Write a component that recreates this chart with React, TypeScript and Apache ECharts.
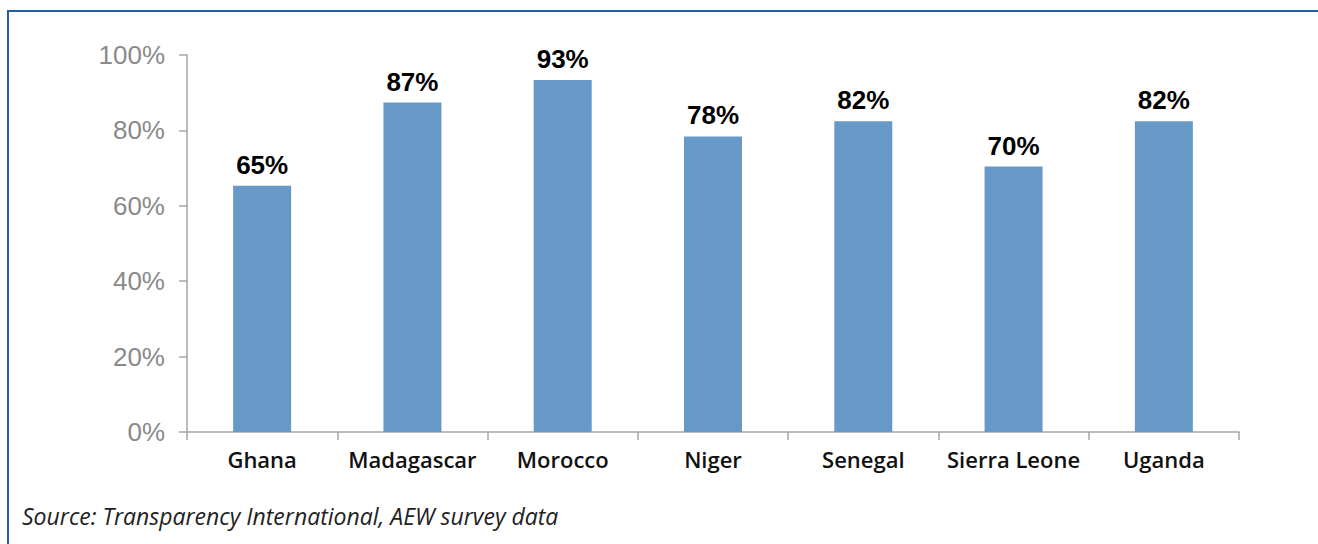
import React, { useEffect, useRef } from "react";
import * as echarts from "echarts";

const categories = ["Ghana", "Madagascar", "Morocco", "Niger", "Senegal", "Sierra Leone", "Uganda"];
// bar heights (labels show the rounded values)
const values = [65.3, 87.4, 93.4, 78.4, 82.4, 70.4, 82.4];
const yTicks = [0, 20, 40, 60, 80, 100];
const sourceText = "Source: Transparency International, AEW survey data";

export default function App() {
  const ref = useRef<HTMLDivElement>(null);
  useEffect(() => {
    document.body.style.margin = "0";
    const chart = echarts.init(ref.current!, null, { renderer: "svg" });
    chart.setOption({
      animation: false,
      backgroundColor: "#ffffff",
      grid: { left: 187, right: 79, top: 55, bottom: 112, containLabel: false },
      xAxis: {
        type: "category",
        data: categories,
        axisLine: { lineStyle: { color: "#a6a6a6", width: 1.5 } },
        axisTick: { show: true, length: 8, lineStyle: { color: "#a6a6a6", width: 1.5 } },
        axisLabel: {
          interval: 0,
          margin: 16,
          color: "#111111",
          fontFamily: "Open Sans",
          fontWeight: 600,
          fontSize: 22,
        },
      },
      yAxis: {
        type: "value",
        min: yTicks[0],
        max: yTicks[yTicks.length - 1],
        interval: 20,
        splitLine: { show: false },
        axisLine: { show: true, lineStyle: { color: "#a6a6a6", width: 1.5 } },
        axisTick: { show: true, length: 8, lineStyle: { color: "#a6a6a6", width: 1.5 } },
        axisLabel: {
          margin: 22,
          color: "#8a8a8a",
          fontFamily: "Liberation Sans",
          fontSize: 26,
          formatter: (v: number) => v + "%",
        },
      },
      series: [
        {
          type: "bar",
          data: values,
          barWidth: 58,
          itemStyle: { color: "#6699c8" },
          label: {
            show: true,
            position: "top",
            distance: 8,
            color: "#000000",
            fontFamily: "Liberation Sans",
            fontWeight: "bold",
            fontSize: 26,
            formatter: (p: any) => Math.round(p.value) + "%",
          },
        },
      ],
      graphic: [
        {
          type: "rect",
          shape: { x: 8, y: 11, width: 1320, height: 560 },
          style: { fill: "none", stroke: "#215ea8", lineWidth: 2 },
          silent: true,
        },
        {
          type: "text",
          left: 22,
          top: 504,
          style: {
            text: sourceText,
            fill: "#222222",
            fontFamily: "Open Sans",
            fontStyle: "italic",
            fontSize: 23,
          },
        },
      ],
    });
    return () => chart.dispose();
  }, []);
  return <div ref={ref} style={{ width: 1318, height: 544 }} />;
}
